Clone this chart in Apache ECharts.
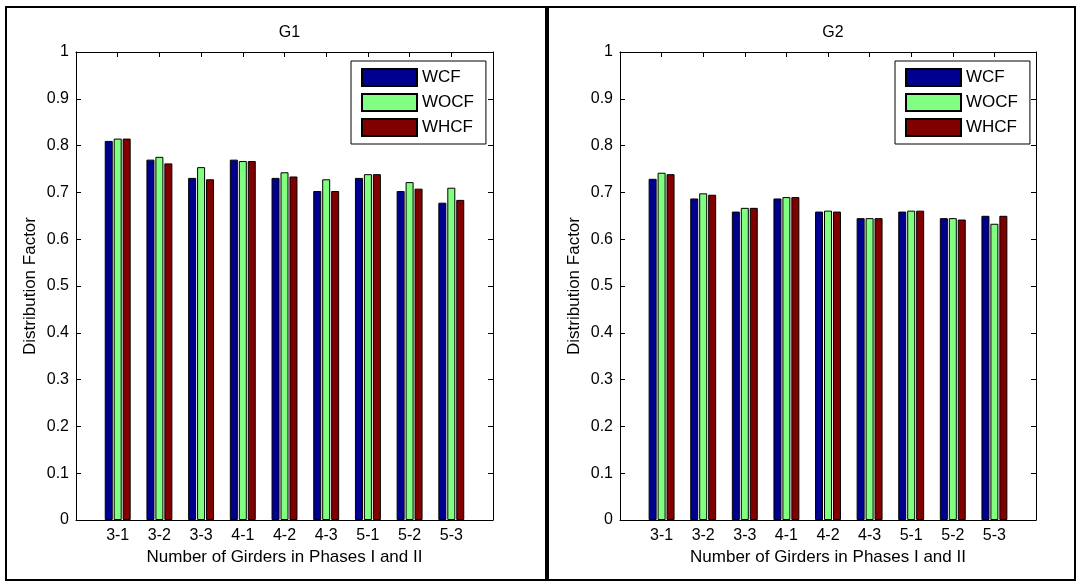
<!DOCTYPE html>
<html>
<head>
<meta charset="utf-8">
<script src="https://cdn.jsdelivr.net/npm/echarts@6/dist/echarts.min.js"></script>
<style>
html,body{margin:0;padding:0;background:#fff;}
#chart{width:1078px;height:582px;}
</style>
</head>
<body>
<div id="chart"></div>
<script>
const categories = ['3-1','3-2','3-3','4-1','4-2','4-3','5-1','5-2','5-3'];
const seriesNames = ['WCF','WOCF','WHCF'];
const g1WCF  = [0.810,0.770,0.731,0.770,0.731,0.703,0.731,0.703,0.678];
const g1WOCF = [0.815,0.776,0.754,0.767,0.743,0.728,0.739,0.722,0.710];
const g1WHCF = [0.815,0.762,0.728,0.767,0.734,0.703,0.739,0.708,0.684];
const g2WCF  = [0.729,0.687,0.659,0.687,0.659,0.645,0.659,0.645,0.650];
const g2WOCF = [0.742,0.698,0.667,0.690,0.661,0.645,0.661,0.645,0.633];
const g2WHCF = [0.739,0.695,0.667,0.690,0.659,0.645,0.661,0.642,0.650];
const yTicks = [0,0.1,0.2,0.3,0.4,0.5,0.6,0.7,0.8,0.9,1];
const colors = ['#00008F','#80FF80','#800000'];

const FONT = 'Liberation Sans';
const chart = echarts.init(document.getElementById('chart'));

const grids = [
  {left:76, top:52, width:417, height:468},
  {left:620, top:52, width:416, height:468}
];
const titles = ['G1','G2'];
const groups = [[g1WCF,g1WOCF,g1WHCF],[g2WCF,g2WOCF,g2WHCF]];

const xAxes = [], yAxes = [], series = [], legends = [], titleArr = [];
grids.forEach((g, gi) => {
  const lineStyle = {color:'#000', width:1};
  xAxes.push({
    type:'value', gridIndex:gi, min:0, max:categories.length+1, interval:1, position:'bottom',
    axisLine:{show:true, onZero:false, lineStyle}, axisTick:{show:true, inside:true, length:5, lineStyle},
    splitLine:{show:false},
    axisLabel:{color:'#000', fontFamily:FONT, fontSize:16, margin:8,
      formatter: v => (v>=1 && v<=categories.length) ? categories[v-1] : ''},
    name:'Number of Girders in Phases I and II', nameLocation:'middle', nameGap:28,
    nameTextStyle:{color:'#000', fontFamily:FONT, fontSize:17}
  });
  xAxes.push({
    type:'value', gridIndex:gi, min:0, max:categories.length+1, interval:1, position:'top',
    axisLine:{show:true, onZero:false, lineStyle}, axisTick:{show:true, inside:true, length:5, lineStyle},
    splitLine:{show:false}, axisLabel:{show:false}
  });
  yAxes.push({
    type:'value', gridIndex:gi, min:yTicks[0], max:yTicks[yTicks.length-1], interval:0.1, position:'left',
    axisLine:{show:true, onZero:false, lineStyle}, axisTick:{show:true, inside:true, length:5, lineStyle},
    splitLine:{show:false},
    axisLabel:{color:'#000', fontFamily:FONT, fontSize:16, margin:7,
      formatter: v => String(Math.round(v*10)/10)},
    name:'Distribution Factor', nameLocation:'middle', nameGap:37, nameRotate:90,
    nameTextStyle:{color:'#000', fontFamily:FONT, fontSize:17}
  });
  yAxes.push({
    type:'value', gridIndex:gi, min:yTicks[0], max:yTicks[yTicks.length-1], interval:0.1, position:'right',
    axisLine:{show:true, onZero:false, lineStyle}, axisTick:{show:true, inside:true, length:5, lineStyle},
    splitLine:{show:false}, axisLabel:{show:false}
  });
  groups[gi].forEach((vals, si) => {
    series.push({
      type:'bar', name:seriesNames[si], xAxisIndex:gi*2, yAxisIndex:gi*2,
      barWidth:8, barGap:'12%',
      itemStyle:{color:colors[si], borderColor:'#000', borderWidth:1},
      data: vals.map((v,i) => [i+1, v])
    });
  });
  legends.push({
    data:seriesNames, orient:'vertical', left:g.left+275, top:61, icon:'rect',
    itemWidth:55, itemHeight:17, itemGap:6, padding:[7,12,7,10],
    borderColor:'#000', borderWidth:1, backgroundColor:'#fff',
    textStyle:{color:'#000', fontFamily:FONT, fontSize:17},
    selectedMode:false
  });
  titleArr.push({
    text:titles[gi], left:g.left + g.width/2, top:20, textAlign:'center',
    textStyle:{color:'#000', fontFamily:FONT, fontSize:16, fontWeight:'normal'}
  });
});

chart.setOption({
  animation:false,
  backgroundColor:'#fff',
  title:titleArr,
  legend:legends,
  grid:grids,
  xAxis:xAxes,
  yAxis:yAxes,
  series:series,
  graphic:[
    {type:'rect', shape:{x:6, y:7, width:540, height:573}, style:{fill:'none', stroke:'#000', lineWidth:2}, silent:true},
    {type:'rect', shape:{x:548, y:7, width:527, height:573}, style:{fill:'none', stroke:'#000', lineWidth:2}, silent:true}
  ]
});
</script>
</body>
</html>
